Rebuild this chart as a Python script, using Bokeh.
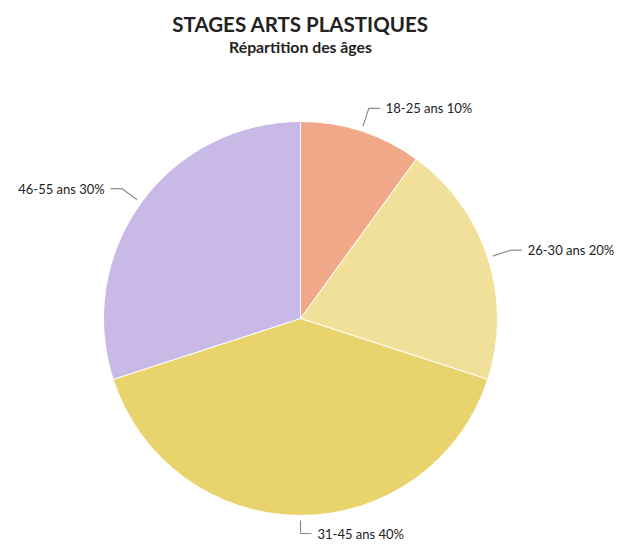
import math
from bokeh.plotting import figure
from bokeh.models import Range1d
from bokeh.core.properties import value
from bokeh.embed import file_html
from bokeh.resources import INLINE

# Data
categories = ["18-25 ans", "26-30 ans", "31-45 ans", "46-55 ans"]
shares = [10, 20, 40, 30]
colors = ["#F0A888", "#F0E09A", "#E8D36C", "#C8B9E6"]
title_text = "STAGES ARTS PLASTIQUES"
subtitle_text = "Répartition des âges"

W, H = 624, 545
p = figure(width=W, height=H, output_backend="svg", toolbar_location=None,
           x_range=Range1d(0, W), y_range=Range1d(0, H), min_border=0)
p.axis.visible = False
p.grid.visible = False
p.outline_line_color = None
p.background_fill_color = "white"
p.border_fill_color = "white"

cx, cy, R = 300, H - 318, 197
total = sum(shares)

starts, ends, mids = [], [], []
a = math.pi / 2
for s in shares:
    span = 2 * math.pi * s / total
    starts.append(a - span)
    ends.append(a)
    mids.append(a - span / 2)
    a -= span

p.wedge(x=cx, y=cy, radius=R, start_angle=starts, end_angle=ends,
        fill_color=colors, line_color="white", line_width=1)

# leader lines and labels
r1, hl = 202, 11
for cat, s, m in zip(categories, shares, mids):
    r2 = 215 if math.sin(m) < -0.99 else 221
    x1, y1 = cx + r1 * math.cos(m), cy + r1 * math.sin(m)
    x2, y2 = cx + r2 * math.cos(m), cy + r2 * math.sin(m)
    right = math.cos(m) >= -1e-9
    sign = 1 if right else -1
    x3 = x2 + sign * hl
    p.line([x1, x2, x3], [y1, y2, y2], line_color="#8C8C8C", line_width=1.2)
    p.text(x=[x3 + sign * 6], y=[y2], text=[f"{cat} {s}%"],
           text_font=value("Lato"), text_font_size="13px", text_color="#222222",
           text_align="left" if right else "right", text_baseline="middle")

p.text(x=[300], y=[H - 23], text=[title_text], text_font=value("Lato"),
       text_font_size="20.5px", text_font_style="bold", text_color="#222222",
       text_align="center", text_baseline="middle")
p.text(x=[300], y=[H - 46], text=[subtitle_text], text_font=value("Lato"),
       text_font_size="15.8px", text_font_style="bold", text_color="#222222",
       text_align="center", text_baseline="middle")

open("out.html", "w").write(file_html(p, INLINE))
